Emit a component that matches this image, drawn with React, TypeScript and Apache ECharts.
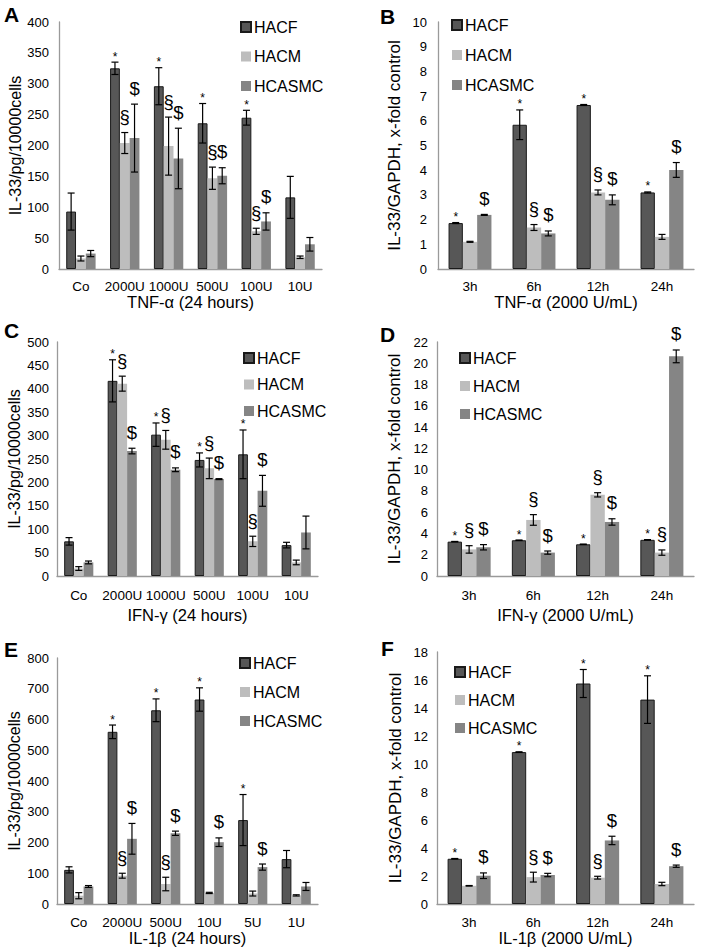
import React, { useEffect, useRef } from "react";
import * as echarts from "echarts";

const FONT = "'Liberation Sans', Arial, Helvetica, sans-serif";
const NAMES = ["HACF", "HACM", "HCASMC"];
const COLORS = ["#575757", "#bdbdbd", "#858585"];

// Panel A: TNF-α dose (24 h)
const catsA = ["Co", "2000U", "1000U", "500U", "100U", "10U"];
const aHACF = [93, 325, 296, 236, 245, 116];
const aHACFErr = [30, 10, 30, 32, 12, 34];
const aHACM = [17, 204, 199, 147, 61, 19];
const aHACMErr = [4, 17, 47, 18, 5, 2];
const aHCASMC = [25, 212, 179, 151, 77, 40];
const aHCASMCErr = [5, 55, 49, 13, 14, 11];
const annA = [
  ["", "*", "*", "*", "*", ""],
  ["", "§", "§", "§", "§", ""],
  ["", "$", "$", "$", "$", ""],
];

// Panel B: TNF-α time (2000 U/mL)
const catsB = ["3h", "6h", "12h", "24h"];
const bHACF = [1.86, 5.84, 6.64, 3.1];
const bHACFErr = [0.02, 0.6, 0.02, 0.02];
const bHACM = [1.1, 1.68, 3.1, 1.3];
const bHACMErr = [0.02, 0.12, 0.1, 0.1];
const bHCASMC = [2.19, 1.44, 2.8, 4.01];
const bHCASMCErr = [0.02, 0.1, 0.2, 0.3];
const annB = [
  ["*", "*", "*", "*"],
  ["", "§", "§", ""],
  ["$", "$", "$", "$"],
];

// Panel C: IFN-γ dose (24 h)
const catsC = ["Co", "2000U", "1000U", "500U", "100U", "10U"];
const cHACF = [74, 417, 302, 248, 260, 66];
const cHACFErr = [8, 45, 25, 15, 52, 6];
const cHACM = [16, 411, 291, 230, 74, 29];
const cHACMErr = [4, 16, 20, 22, 11, 5];
const cHCASMC = [29, 267, 227, 207, 182, 93];
const cHCASMCErr = [3, 6, 4, 1, 33, 35];
const annC = [
  ["", "*", "*", "*", "*", ""],
  ["", "§", "§", "§", "§", ""],
  ["", "$", "$", "$", "$", ""],
];

// Panel D: IFN-γ time (2000 U/mL)
const catsD = ["3h", "6h", "12h", "24h"];
const dHACF = [3.23, 3.36, 2.98, 3.4];
const dHACFErr = [0.02, 0.02, 0.02, 0.02];
const dHACM = [2.5, 5.27, 7.63, 2.2];
const dHACMErr = [0.35, 0.5, 0.2, 0.25];
const dHCASMC = [2.7, 2.2, 5.08, 20.65];
const dHCASMCErr = [0.25, 0.15, 0.3, 0.6];
const annD = [
  ["*", "*", "*", "*"],
  ["§", "§", "§", "§"],
  ["$", "$", "$", "$"],
];

// Panel E: IL-1β dose (24 h)
const catsE = ["Co", "2000U", "500U", "10U", "5U", "1U"];
const eHACF = [111, 560, 630, 665, 273, 146];
const eHACFErr = [10, 22, 37, 38, 83, 28];
const eHACM = [27, 92, 65, 36, 34, 28];
const eHACMErr = [10, 8, 22, 2, 8, 2];
const eHCASMC = [57, 212, 230, 201, 120, 57];
const eHCASMCErr = [3, 50, 7, 14, 10, 13];
const annE = [
  ["", "*", "*", "*", "*", ""],
  ["", "§", "§", "", "", ""],
  ["", "$", "$", "$", "$", ""],
];

// Panel F: IL-1β time (2000 U/mL)
const catsF = ["3h", "6h", "12h", "24h"];
const fHACF = [3.23, 10.85, 15.75, 14.6];
const fHACFErr = [0.02, 0.02, 1.0, 1.7];
const fHACM = [1.3, 1.92, 1.88, 1.43];
const fHACMErr = [0.02, 0.35, 0.1, 0.12];
const fHCASMC = [2.02, 2.07, 4.54, 2.7];
const fHCASMCErr = [0.2, 0.12, 0.3, 0.08];
const annF = [
  ["*", "*", "*", "*"],
  ["", "§", "§", ""],
  ["$", "$", "$", "$"],
];

const Y_DOSE = "IL-33/pg/10000cells";
const Y_FOLD = "IL-33/GAPDH, x-fold control";

const GAP = 0.33;

const panels = [
  {
    letter: "A", cats: catsA, vals: [aHACF, aHACM, aHCASMC], errs: [aHACFErr, aHACMErr, aHCASMCErr], ann: annA,
    max: 400, interval: 50, yName: Y_DOSE, xName: "TNF-α (24 hours)",
    grid: { left: 59, top: 22, width: 263, height: 247 }, legend: { left: 240, top: 19, gap: 13.5 },
    letterPos: { left: 4, top: 4 }, yNameGap: 36, yNameSize: 16, xNameGap: 21, xLabelMargin: 10, yLabelMargin: 10,
  },
  {
    letter: "B", cats: catsB, vals: [bHACF, bHACM, bHCASMC], errs: [bHACFErr, bHACMErr, bHCASMCErr], ann: annB,
    max: 10, interval: 1, yName: Y_FOLD, xName: "TNF-α (2000 U/mL)",
    grid: { left: 438, top: 22, width: 256, height: 247 }, legend: { left: 451, top: 17, gap: 14 },
    letterPos: { left: 380, top: 6 }, yNameGap: 35, yNameSize: 17, xNameGap: 22, xLabelMargin: 10, yLabelMargin: 11,
  },
  {
    letter: "C", cats: catsC, vals: [cHACF, cHACM, cHCASMC], errs: [cHACFErr, cHACMErr, cHCASMCErr], ann: annC,
    max: 500, interval: 50, yName: Y_DOSE, xName: "IFN-γ (24 hours)",
    grid: { left: 57, top: 342, width: 261, height: 234 }, legend: { left: 243, top: 350, gap: 10.5 },
    letterPos: { left: 4, top: 320 }, yNameGap: 35, yNameSize: 16, xNameGap: 30, xLabelMargin: 12, yLabelMargin: 8,
  },
  {
    letter: "D", cats: catsD, vals: [dHACF, dHACM, dHCASMC], errs: [dHACFErr, dHACMErr, dHCASMCErr], ann: annD,
    max: 22, interval: 2, yName: Y_FOLD, xName: "IFN-γ (2000 U/mL)",
    grid: { left: 437, top: 342, width: 257, height: 234 }, legend: { left: 459, top: 350, gap: 12 },
    letterPos: { left: 380, top: 324 }, yNameGap: 34, yNameSize: 17, xNameGap: 30, xLabelMargin: 12, yLabelMargin: 9,
  },
  {
    letter: "E", cats: catsE, vals: [eHACF, eHACM, eHCASMC], errs: [eHACFErr, eHACMErr, eHCASMCErr], ann: annE,
    max: 800, interval: 100, yName: Y_DOSE, xName: "IL-1β (24 hours)",
    grid: { left: 57, top: 658, width: 261, height: 246 }, legend: { left: 239, top: 655, gap: 13 },
    letterPos: { left: 4, top: 639 }, yNameGap: 35, yNameSize: 16, xNameGap: 23, xLabelMargin: 11, yLabelMargin: 8,
  },
  {
    letter: "F", cats: catsF, vals: [fHACF, fHACM, fHCASMC], errs: [fHACFErr, fHACMErr, fHCASMCErr], ann: annF,
    max: 18, interval: 2, yName: Y_FOLD, xName: "IL-1β (2000 U/mL)",
    grid: { left: 437, top: 652, width: 257, height: 252 }, legend: { left: 454, top: 664, gap: 12 },
    letterPos: { left: 381, top: 638 }, yNameGap: 33, yNameSize: 17, xNameGap: 22, xLabelMargin: 11, yLabelMargin: 9,
  },
];

function buildOption() {
  const grid: any[] = [];
  const xAxis: any[] = [];
  const yAxis: any[] = [];
  const legend: any[] = [];
  const title: any[] = [];
  const series: any[] = [];

  panels.forEach((p, pi) => {
    grid.push({ ...p.grid, containLabel: false });
    xAxis.push({
      type: "category", gridIndex: pi, data: p.cats,
      axisLine: { show: true, lineStyle: { color: "#9a9a9a", width: 1.3 } },
      axisTick: { show: false },
      axisLabel: { color: "#000", fontSize: 13.5, fontFamily: FONT, margin: p.xLabelMargin, interval: 0 },
      name: p.xName, nameLocation: "middle", nameGap: p.xNameGap,
      nameTextStyle: { color: "#000", fontSize: 16.5, fontFamily: FONT },
    });
    yAxis.push({
      type: "value", gridIndex: pi, min: 0, max: p.max, interval: p.interval,
      axisLine: { show: true, lineStyle: { color: "#9a9a9a", width: 1.3 } },
      axisTick: { show: false }, splitLine: { show: false },
      axisLabel: { color: "#000", fontSize: 13, fontFamily: FONT, margin: p.yLabelMargin },
      name: p.yName, nameLocation: "middle", nameGap: p.yNameGap, nameRotate: 90,
      nameTextStyle: { color: "#000", fontSize: p.yNameSize, fontFamily: FONT },
    });
    legend.push({
      data: NAMES, orient: "vertical", left: p.legend.left, top: p.legend.top,
      itemGap: p.legend.gap, itemWidth: 10, itemHeight: 10, icon: "rect", padding: 0,
      selectedMode: false,
      textStyle: { color: "#000", fontSize: 16, fontFamily: FONT, padding: [0, 0, 0, -2] },
    });
    title.push({
      text: p.letter, left: p.letterPos.left, top: p.letterPos.top, padding: 0,
      textStyle: { color: "#000", fontSize: 21, fontWeight: "bold", fontFamily: FONT },
    });

    for (let k = 0; k < 3; k++) {
      series.push({
        type: "bar", name: NAMES[k], xAxisIndex: pi, yAxisIndex: pi,
        data: p.vals[k], barGap: "0%", barCategoryGap: GAP * 100 + "%",
        itemStyle: k === 0
          ? { color: COLORS[k], borderColor: "#1a1a1a", borderWidth: 1 }
          : { color: COLORS[k] },
        emphasis: { disabled: true },
      });
    }
    for (let k = 0; k < 3; k++) {
      const ann = p.ann[k];
      series.push({
        type: "custom", name: "err" + p.letter + k, xAxisIndex: pi, yAxisIndex: pi,
        z: 5, clip: false,
        encode: { x: 0, y: 1 },
        data: p.vals[k].map((v, i) => [i, v, p.errs[k][i]]),
        renderItem: (params: any, api: any) => {
          const ci = api.value(0);
          const v = api.value(1);
          const e = api.value(2);
          const c = api.coord([ci, v]);
          const band = api.size([1, 0])[0];
          const groupW = band * (1 - GAP);
          const bw = groupW / 3;
          const x = c[0] - groupW / 2 + (k + 0.5) * bw;
          const top = api.coord([ci, v + e])[1];
          const bot = api.coord([ci, Math.max(v - e, 0)])[1];
          const cap = 3.5;
          const ls = { stroke: "#000", lineWidth: 1.2 };
          const children: any[] = [
            { type: "line", shape: { x1: x, y1: top, x2: x, y2: bot }, style: ls },
            { type: "line", shape: { x1: x - cap, y1: top, x2: x + cap, y2: top }, style: ls },
            { type: "line", shape: { x1: x - cap, y1: bot, x2: x + cap, y2: bot }, style: ls },
          ];
          const t = ann[params.dataIndex];
          if (t) {
            const star = t === "*";
            children.push({
              type: "text",
              x: x,
              y: star ? top - 5.5 : top - 16,
              style: {
                text: t, fill: "#000", fontFamily: FONT,
                fontSize: star ? 12 : 18.5,
                align: "center", verticalAlign: "middle",
              },
            });
          }
          return { type: "group", children };
        },
      });
    }
  });

  return { animation: false, backgroundColor: "#fff", grid, xAxis, yAxis, legend, title, series };
}

export default function App() {
  const ref = useRef<HTMLDivElement>(null);
  useEffect(() => {
    if (!ref.current) return;
    const chart = echarts.init(ref.current, undefined, { renderer: "svg" });
    chart.setOption(buildOption() as any);
    return () => chart.dispose();
  }, []);
  return (
    <div
      ref={ref}
      style={{ position: "fixed", left: 0, top: 0, width: 702, height: 948, background: "#fff" }}
    />
  );
}
